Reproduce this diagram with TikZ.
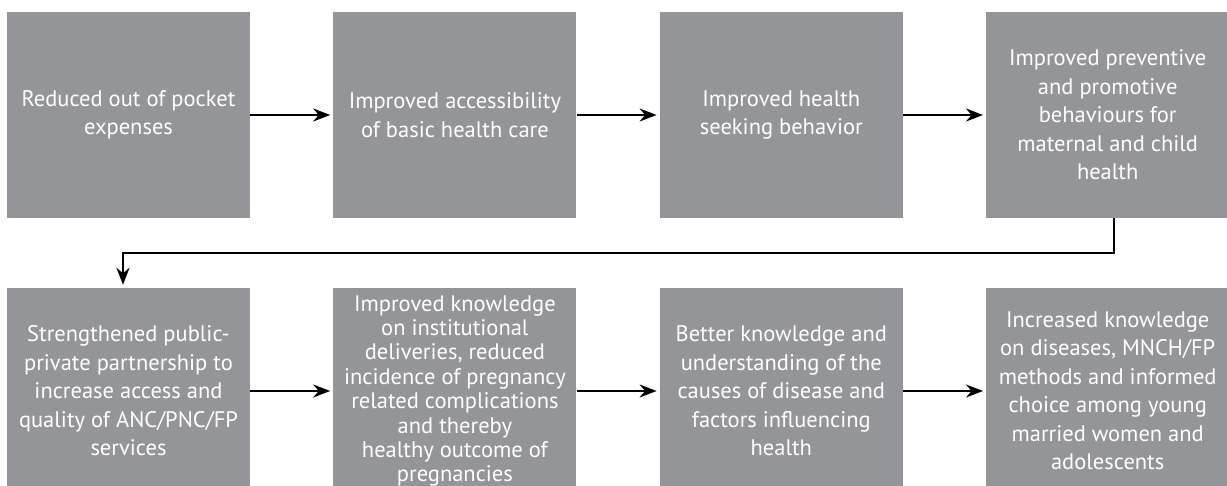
\documentclass[tikz,border=0pt]{standalone}
\usepackage{fontspec}
\setmainfont{PT Sans}
\usetikzlibrary{arrows.meta, positioning}
\definecolor{boxgray}{HTML}{939598}

\begin{document}
\begin{tikzpicture}[x=1pt, y=-1pt,
                outcome/.style={fill=boxgray, text=white, minimum width=243pt, minimum height=206pt,
                               align=center, inner sep=2pt, font=\fontsize{22.5}{28.5}\selectfont},
                link/.style={-{Stealth[length=17pt, width=13pt]}, line width=2pt, shorten >=3pt}]

                % Page frame - the lower row is cut off at the bottom edge
                \useasboundingbox (0,0) rectangle (1227,486);
                \clip (0,0) rectangle (1227,486);

                % Upper row of outcomes
                \node[outcome] (pocket) at (128.5,115) {Reduced out of pocket\\expenses};
                \node[outcome, right=83pt of pocket] (access) {Improved accessibility\\of basic health care};
                \node[outcome, right=83pt of access] (seeking) {Improved health\\seeking behavior};
                \node[outcome, right=83pt of seeking] (prevent)
                    {Improved preventive\\and promotive\\behaviours for\\maternal and child\\health};

                % Lower row of outcomes
                \node[outcome] (partner) at (128.5,391)
                    {Strengthened public-\\private partnership to\\increase access and\\quality of ANC/PNC/FP\\services};
                \node[outcome, right=83pt of partner, font=\fontsize{22.5}{24.4}\selectfont] (deliver)
                    {Improved knowledge\\on institutional\\deliveries, reduced\\incidence of pregnancy\\related complications\\and thereby\\healthy outcome of\\pregnancies};
                \node[outcome, right=83pt of deliver] (causes)
                    {Better knowledge and\\understanding of the\\causes of disease and\\factors influencing\\health};
                \node[outcome, right=83pt of causes] (choice)
                    {Increased knowledge\\on diseases, MNCH/FP\\methods and informed\\choice among young\\married women and\\adolescents};

                % Arrows along each row
                \draw[link] (pocket) -- (access);
                \draw[link] (access) -- (seeking);
                \draw[link] (seeking) -- (prevent);
                \draw[link] (partner) -- (deliver);
                \draw[link] (deliver) -- (causes);
                \draw[link] (causes) -- (choice);

                % Turn from the end of the upper row to the start of the lower row
                \draw[link] ([xshift=6.5pt]prevent.south) -- ++(0,35) -| ([xshift=-5.5pt]partner.north);
            \end{tikzpicture}
\end{document}
